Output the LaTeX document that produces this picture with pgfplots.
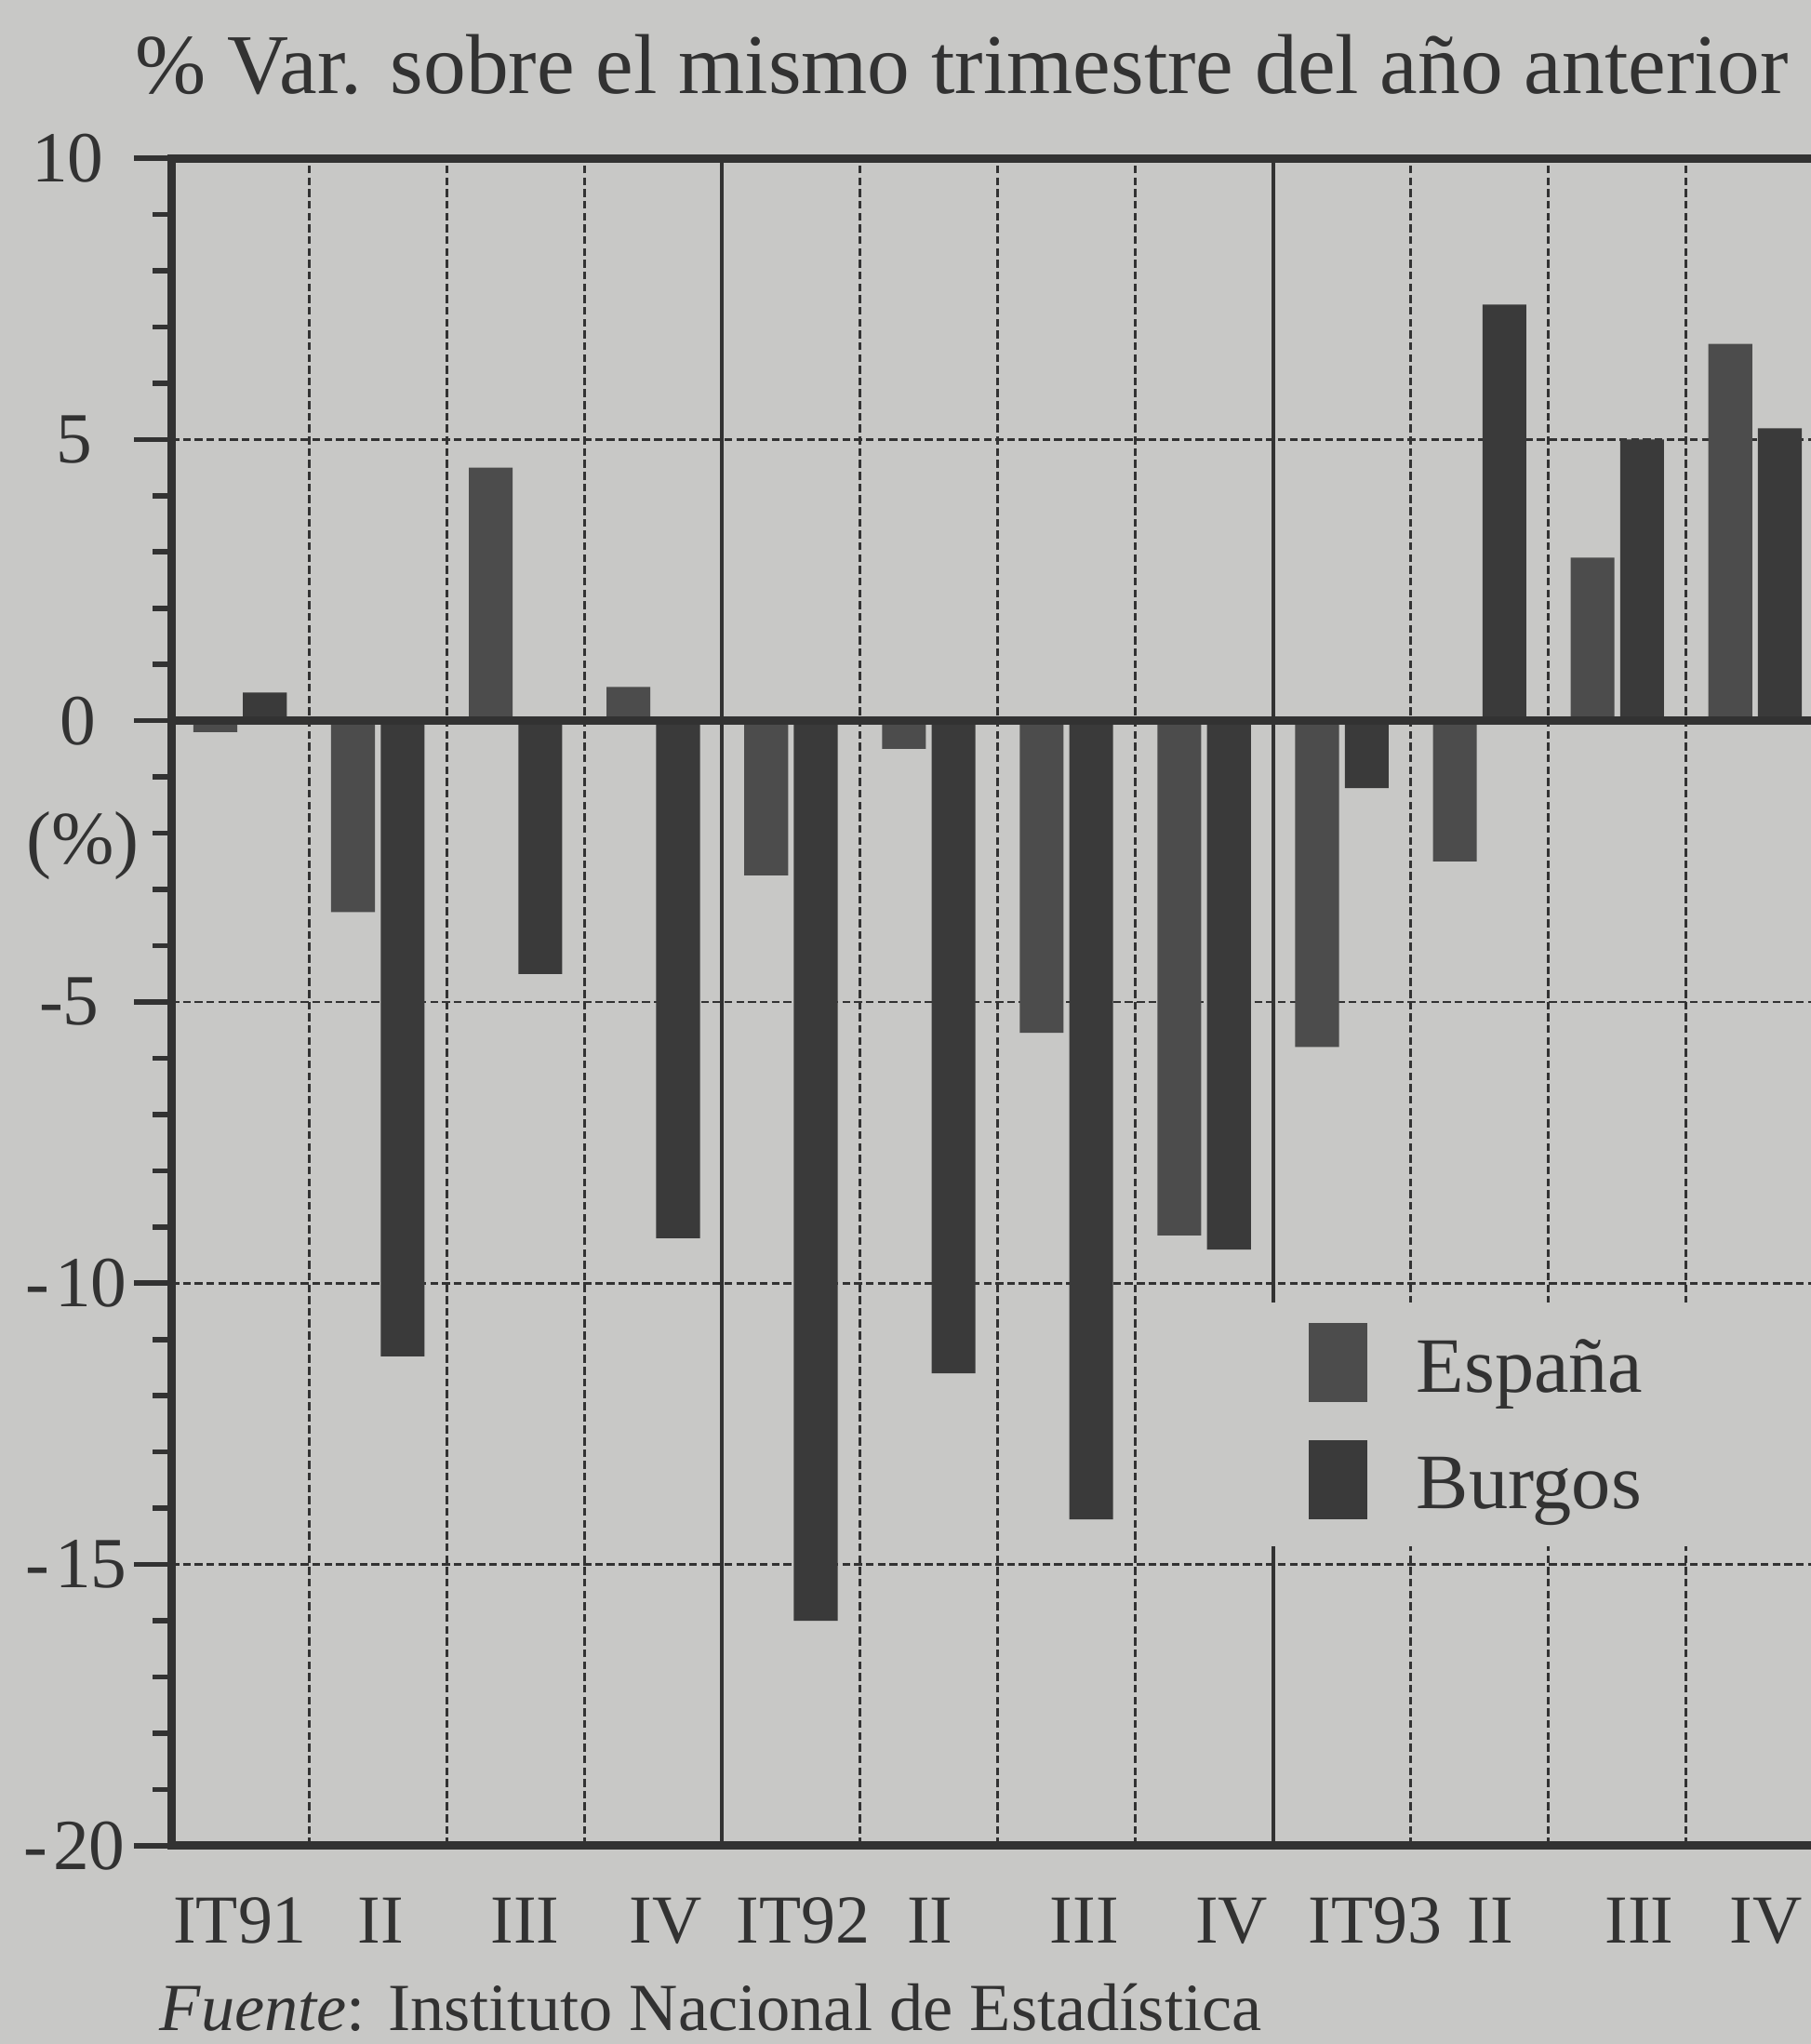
\documentclass[border=0pt]{standalone}
\usepackage{fontspec}
\setmainfont{Liberation Serif}
\usepackage{pgfplots}
\pgfplotsset{compat=1.18}
\definecolor{bg}{RGB}{200,200,198}
\definecolor{esp}{RGB}{76,76,76}
\definecolor{bur}{RGB}{58,58,58}
\definecolor{ink}{RGB}{50,50,50}
\begin{document}
\begin{tikzpicture}
\fill[bg] (-20mm,-23mm) rectangle (180mm,200mm);
\begin{axis}[
  at={(0,0)}, anchor=south west,
  scale only axis, width=177.6mm, height=181.3mm,
  xmin=0, xmax=12, ymin=-20, ymax=10,
  clip=false,
  axis line style={line width=2.6pt, ink},
  ytick={-20,-15,-10,-5,0,5,10},
  yticklabels={-\kern0.08em20\kern-3.2mm,-\kern0.08em15\kern-3.4mm,-\kern0.08em10\kern-3.4mm,-5\kern-0.4mm,0\kern-0.1mm,5\kern0.3mm,10\kern-0.9mm},
  minor ytick={-19,-18,-17,-16,-14,-13,-12,-11,-9,-8,-7,-6,-4,-3,-2,-1,1,2,3,4,6,7,8,9},
  xtick={0.5,1.52,2.57,3.59,4.59,5.51,6.63,7.70,8.74,9.58,10.66,11.58},
  xticklabels={IT91,II,III,IV,IT92,II,III,IV,IT93,II,III,IV},
  minor xtick={1,2,3,5,6,7,9,10,11},
  major x tick style={draw=none},
  minor x tick style={draw=none},
  xminorgrids=true, ymajorgrids=true,
  ytick pos=left,
  tick align=outside,
  major tick length=4mm, minor tick length=2mm,
  tick style={line width=1.6pt, ink},
  major grid style={line width=0.8pt, ink, dash pattern=on 2.4pt off 1.2pt},
  minor grid style={line width=0.8pt, ink, dash pattern=on 2.4pt off 1.2pt},
  extra x ticks={4,8},
  extra x tick labels={},
  extra x tick style={grid=major, major grid style={line width=1.2pt, ink, solid}, major x tick style={draw=none}},
  yticklabel style={font=\fontsize{22}{26}\selectfont, text=ink, xshift=-2.9mm},
  xticklabel style={font=\fontsize{21}{25}\selectfont, text=ink, anchor=base, yshift=-6.5mm},
  legend style={draw=none, fill=none, inner sep=0pt, outer sep=0pt,
    at={(axis cs:8.257,-10.70)}, anchor=north west,
    nodes={inner sep=0pt, text=ink}, row sep=4.1mm,
    font=\fontsize{24}{28}\selectfont},
  legend cell align=left,
]
\fill[bg] (axis cs:7.94,-10.35) rectangle (axis cs:12.2,-14.68);
\addplot[ybar, bar width=0.318, bar shift=0pt, fill=esp, draw=none,
  legend image code/.code={\fill[esp] (0mm,-3.6mm) rectangle (6.3mm,4.9mm); \path (11.6mm,0mm);}]
  coordinates {(0.32,-0.2) (1.32,-3.4) (2.32,4.5) (3.32,0.6) (4.32,-2.75) (5.32,-0.5)
               (6.32,-5.55) (7.32,-9.15) (8.32,-5.8) (9.32,-2.5) (10.32,2.9) (11.32,6.7)};
\addlegendentry{España}
\addplot[ybar, bar width=0.318, bar shift=0pt, fill=bur, draw=none,
  legend image code/.code={\fill[bur] (0mm,-3.6mm) rectangle (6.3mm,4.9mm); \path (11.6mm,0mm);}]
  coordinates {(0.68,0.5) (1.68,-11.3) (2.68,-4.5) (3.68,-9.2) (4.68,-16.0) (5.68,-11.6)
               (6.68,-14.2) (7.68,-9.4) (8.68,-1.2) (9.68,7.4) (10.68,5.0) (11.68,5.2)};
\addlegendentry{Burgos}
\draw[line width=2.4pt, ink] (axis cs:0,0) -- (axis cs:12,0);
\node[anchor=base west, xshift=-3.9mm, yshift=7.0mm, text=ink, font=\fontsize{26}{30}\selectfont, inner sep=0pt]
  at (rel axis cs:0,1) {\% Var. sobre el mismo trimestre del año anterior};
\node[anchor=east, xshift=-3.4mm, text=ink, font=\fontsize{23}{27}\selectfont, inner sep=0pt]
  at (axis cs:0,-2.22) {(\%)};
\node[anchor=base west, xshift=-1.3mm, yshift=-19.9mm, text=ink, font=\fontsize{20.6}{24}\selectfont, inner sep=0pt]
  at (rel axis cs:0,0) {\textit{Fuente}: Instituto Nacional de Estadística};
\end{axis}
\pgfresetboundingbox
\useasboundingbox (-18.4mm,-21.3mm) rectangle (176.2mm,198.3mm);
\end{tikzpicture}
\end{document}
